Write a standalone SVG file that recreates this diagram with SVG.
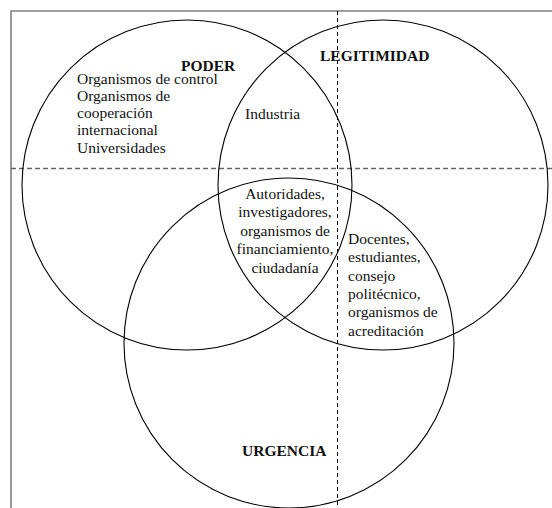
<svg xmlns="http://www.w3.org/2000/svg" width="552" height="508" viewBox="0 0 552 508">
<style>
  .circ { fill: none; stroke: #000; stroke-width: 1.1; }
  .frame { fill: none; stroke: #808080; stroke-width: 1.6; }
  .hdash { stroke: #666; stroke-width: 1.3; stroke-dasharray: 5 3; }
  .vdash { stroke: #000; stroke-width: 1; stroke-dasharray: 4 3; }
  text { font-family: "Liberation Serif", "Times New Roman", serif; fill: #111; }
  .t { font-size: 15.5px; }
  .h { font-size: 15.5px; font-weight: bold; }
</style>
<rect width="552" height="508" fill="#fff"/>
<g id="frame">
  <path class="frame" d="M11 508 V11 H552"/>
</g>
<g id="axes">
  <line class="hdash" x1="11" y1="168.5" x2="552" y2="168.5"/>
  <line class="vdash" x1="337.5" y1="11" x2="337.5" y2="508"/>
</g>
<g id="poder">
  <circle class="circ" cx="187" cy="185" r="165"/>
  <text class="h" x="181" y="71">PODER</text>
  <text class="t" x="77" y="83.5">Organismos de control</text>
  <text class="t" x="77" y="100.8">Organismos de</text>
  <text class="t" x="77" y="118.1">cooperación</text>
  <text class="t" x="77" y="135.4">internacional</text>
  <text class="t" x="77" y="152.7">Universidades</text>
</g>
<g id="legitimidad">
  <circle class="circ" cx="383" cy="185" r="165"/>
  <text class="h" x="320" y="60.5">LEGITIMIDAD</text>
</g>
<g id="urgencia">
  <circle class="circ" cx="289" cy="343" r="165"/>
  <text class="h" x="242" y="456">URGENCIA</text>
</g>
<g id="poder-legitimidad">
  <text class="t" x="245" y="119">Industria</text>
</g>
<g id="centro">
  <text class="t" x="285" y="198.5" text-anchor="middle">Autoridades,</text>
  <text class="t" x="285" y="217.1" text-anchor="middle">investigadores,</text>
  <text class="t" x="285" y="235.7" text-anchor="middle">organismos de</text>
  <text class="t" x="285" y="254.3" text-anchor="middle">financiamiento,</text>
  <text class="t" x="285" y="272.9" text-anchor="middle">ciudadanía</text>
</g>
<g id="legitimidad-urgencia">
  <text class="t" x="348" y="244">Docentes,</text>
  <text class="t" x="348" y="262.3">estudiantes,</text>
  <text class="t" x="348" y="280.6">consejo</text>
  <text class="t" x="348" y="298.9">politécnico,</text>
  <text class="t" x="348" y="317.2">organismos de</text>
  <text class="t" x="348" y="335.5">acreditación</text>
</g>
</svg>
